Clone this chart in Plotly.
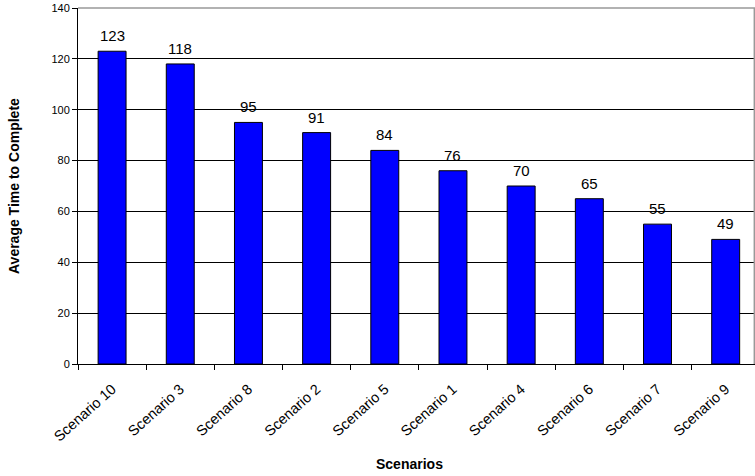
import plotly.graph_objects as go

categories = ["Scenario 10", "Scenario 3", "Scenario 8", "Scenario 2", "Scenario 5",
              "Scenario 1", "Scenario 4", "Scenario 6", "Scenario 7", "Scenario 9"]
values = [123, 118, 95, 91, 84, 76, 70, 65, 55, 49]
y_ticks = [0, 20, 40, 60, 80, 100, 120, 140]

fig = go.Figure()
fig.add_trace(go.Bar(
    x=categories, y=values,
    marker=dict(color="#0000FF", line=dict(color="black", width=1)),
    width=0.41,
))

for c, v in zip(categories, values):
    fig.add_annotation(x=c, y=v, text=str(v), showarrow=False,
                       yanchor="bottom", yshift=5,
                       font=dict(family="Liberation Sans, Arial", size=15, color="black"))

fig.add_annotation(xref="paper", yref="paper", x=0.49, y=0, yshift=-100,
                   text="<b>Scenarios</b>", showarrow=False, yanchor="middle",
                   font=dict(size=14))
fig.add_annotation(xref="paper", yref="paper", x=0, xshift=-64, y=0.5,
                   text="<b>Average Time to Complete</b>", showarrow=False,
                   textangle=-90, xanchor="center", font=dict(size=14))

fig.update_layout(
    width=755, height=476,
    margin=dict(l=78, r=0, t=7.5, b=112),
    paper_bgcolor="white", plot_bgcolor="white",
    showlegend=False,
    font=dict(family="Liberation Sans, Arial", color="black"),
    xaxis=dict(
        range=[-0.5, 9.43], tickangle=-42,
        tickfont=dict(size=14.5), showgrid=False,
        ticks="outside", ticklen=5, tickcolor="black",
        tickson="boundaries", ticklabelstandoff=10,
        showline=True, linecolor="black", linewidth=1,
    ),
    yaxis=dict(
        range=[0, 140], tickvals=y_ticks,
        tickfont=dict(size=11),
        showgrid=True, gridcolor="black", gridwidth=1,
        ticks="outside", ticklen=5, tickcolor="black",
        showline=True, linecolor="black", linewidth=1,
        zeroline=False,
    ),
    shapes=[
        dict(type="line", xref="paper", yref="paper", x0=0, x1=1, y0=1, y1=1,
             line=dict(color="#999999", width=1.5)),
        dict(type="line", xref="paper", yref="paper", x0=0.999, x1=0.999, y0=0, y1=1,
             line=dict(color="#999999", width=1.5)),
    ],
)

fig.write_html("out.html")
